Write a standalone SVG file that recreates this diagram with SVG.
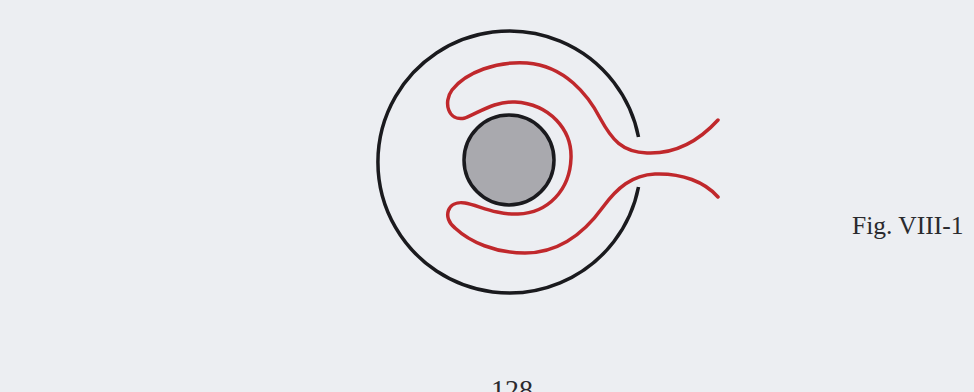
<svg xmlns="http://www.w3.org/2000/svg" width="974" height="392" viewBox="0 0 974 392">
<style>
.bg{fill:#eceef2}
.ring{fill:none;stroke:#1a1a1e;stroke-width:3.5}
.core{fill:#a9a9ae;stroke:#1a1a1e;stroke-width:3.5}
.red{fill:none;stroke:#c0282c;stroke-width:3.5;stroke-linecap:round;stroke-linejoin:round}
.t{font-family:"Liberation Serif","Times New Roman",serif;fill:#2a2a2e}
</style>
<rect class="bg" x="0" y="0" width="974" height="392"/>
<g id="outer-ring">
<path class="ring" d="M638.5,137 A131.5,131 0 1 0 638.5,187"/>
</g>
<g id="core">
<circle class="core" cx="509" cy="160" r="45"/>
</g>
<g id="red-curve">
<path class="red" d="M718,120 C697,143 672,154 647,153 C622,152 612,140 600,118 C588,95 565,66 527,63 C497,61 466,72 452,90 C443,102 448,122 465,118 C480,112 495,101 515,102 C550,104 572,130 571,158 C570,190 548,213 518,214 C495,215 478,205 465,203 C447,200 442,218 455,228 C470,242 495,253 525,253 C560,253 585,232 603,207 C617,188 632,175 655,174 C682,173 705,182 718,197"/>
</g>
<text class="t" x="852" y="234" font-size="25.5">Fig. VIII-1</text>
<text class="t" x="512" y="399" font-size="28" text-anchor="middle">128</text>
</svg>
